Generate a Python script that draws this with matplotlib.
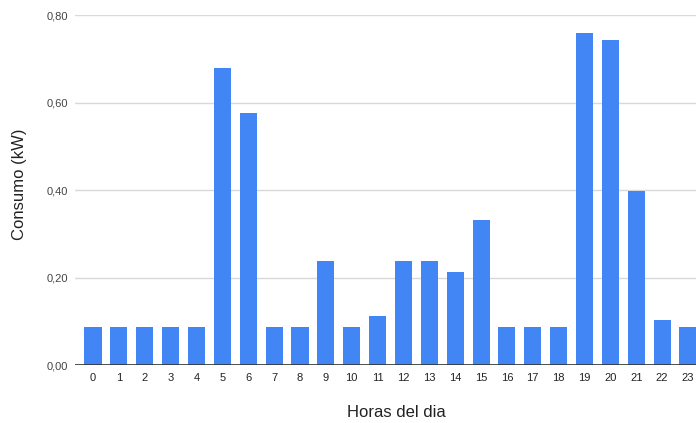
import matplotlib.pyplot as plt
import matplotlib as mpl
import numpy as np

mpl.rcParams['font.family'] = ['Liberation Sans', 'DejaVu Sans']

# Hourly consumption data
horas = list(range(24))
consumo = [0.088, 0.088, 0.088, 0.088, 0.088, 0.678, 0.577, 0.088,
           0.088, 0.237, 0.088, 0.113, 0.237, 0.237, 0.213, 0.331,
           0.088, 0.088, 0.088, 0.760, 0.744, 0.398, 0.104, 0.088]
yticks = [0.0, 0.2, 0.4, 0.6, 0.8]
ytick_labels = ['0,00', '0,20', '0,40', '0,60', '0,80']

fig = plt.figure(figsize=(6.96, 4.23), dpi=100)
ax = fig.add_axes([0.1078, 0.1371, 0.8922, 0.8274])

ax.bar(horas, consumo, width=0.66, color='#4285F4', zorder=3)

ax.set_xlim(-0.696, 23.31)
ax.set_ylim(0, 0.8)
ax.set_xticks(horas)
ax.set_xticklabels([str(h) for h in horas], fontsize=8, color='#222222')
ax.set_yticks(yticks)
ax.set_yticklabels(ytick_labels, fontsize=8, color='#444444')
ax.tick_params(axis='both', length=0)
ax.tick_params(axis='x', pad=6)
ax.tick_params(axis='y', pad=5)

ax.grid(axis='y', color='#d9d9d9', linewidth=1, zorder=0)
ax.axhline(0, color='#333333', linewidth=1.2, zorder=4)
for s in ax.spines.values():
    s.set_visible(False)

fig.text(0.028, 0.565, 'Consumo (kW)', rotation=90, fontsize=12,
         ha='center', va='center', color='#222222')
fig.text(0.570, 0.024, 'Horas del dia', fontsize=12,
         ha='center', va='center', color='#222222')

fig.savefig('out.png', dpi=100)
